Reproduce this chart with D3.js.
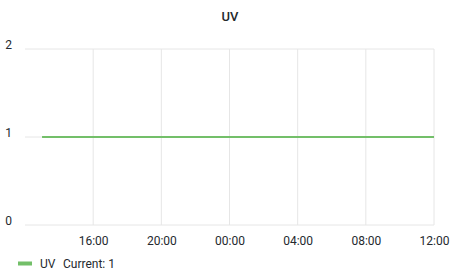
<!DOCTYPE html>
<html>
<head>
<meta charset="utf-8">
<script src="https://cdn.jsdelivr.net/npm/d3@7"></script>
<style>
  body { margin: 0; background: #fff; font-family: Roboto, "Noto Sans", sans-serif; }
</style>
</head>
<body>
<div id="chart"></div>
<script>
// UV panel, one series that stays flat at 1
const times = ['2024-01-01T13:00', '2024-01-01T16:00', '2024-01-01T20:00', '2024-01-02T00:00',
  '2024-01-02T04:00', '2024-01-02T08:00', '2024-01-02T12:00']
const uvValues = [1, 1, 1, 1, 1, 1, 1]
const domainTimes = ['2024-01-01T12:00', '2024-01-02T12:00']
const yTicks = [0, 1, 2]
const seriesName = 'UV'
const currentValue = 1

let fullWidth = 460
let fullHeight = 280
let margin = { top: 49, right: 26, bottom: 55, left: 25 }
let width = fullWidth - margin.left - margin.right
let height = fullHeight - margin.top - margin.bottom

const parse = d3.timeParse('%Y-%m-%dT%H:%M')
const data = times.map((t, i) => ({ date: parse(t), value: uvValues[i] }))

const svg = d3.select('#chart').append('svg')
  .attr('width', fullWidth).attr('height', fullHeight)

svg.append('text')
  .attr('x', fullWidth / 2).attr('y', 21)
  .attr('text-anchor', 'middle')
  .attr('font-size', 13).attr('font-weight', 500)
  .attr('fill', '#24292e')
  .text(seriesName)

const g = svg.append('g').attr('transform', 'translate(' + margin.left + ',' + margin.top + ')')

const x = d3.scaleTime().domain(domainTimes.map(parse)).range([0, width])
const y = d3.scaleLinear().domain([0, 2]).range([height, 0])

// grid
g.append('g').selectAll('line').data(yTicks).enter().append('line')
  .attr('x1', 0).attr('x2', width)
  .attr('y1', d => y(d)).attr('y2', d => y(d))
  .attr('stroke', '#e6e6e6')

const xTicks = x.ticks(d3.timeHour.every(4)).filter(d => +d > +x.domain()[0])
g.append('g').selectAll('line').data(xTicks).enter().append('line')
  .attr('x1', d => x(d)).attr('x2', d => x(d))
  .attr('y1', 0).attr('y2', height)
  .attr('stroke', '#e6e6e6')

// axes labels
const xAxis = d3.axisBottom(x).tickValues(xTicks).tickFormat(d3.timeFormat('%H:%M')).tickSize(0).tickPadding(11)
g.append('g').attr('transform', 'translate(0,' + height + ')').call(xAxis)
  .call(a => a.select('.domain').remove())
  .selectAll('text').attr('font-size', 12).attr('font-family', 'Roboto').attr('fill', '#24292e')

const yAxis = d3.axisLeft(y).tickValues(yTicks).tickFormat(d3.format('d')).tickSize(0).tickPadding(13)
g.append('g').call(yAxis)
  .call(a => a.select('.domain').remove())
  .selectAll('text').attr('font-size', 12).attr('font-family', 'Roboto').attr('fill', '#24292e')
  .attr('dy', '-0.05em')

// series
const line = d3.line().x(d => x(d.date)).y(d => y(d.value))
g.append('path').datum(data)
  .attr('fill', 'none')
  .attr('stroke', '#73bf69')
  .attr('stroke-width', 2)
  .attr('d', line)

// legend
const legend = svg.append('g').attr('transform', 'translate(18,263)')
legend.append('rect').attr('x', 0).attr('y', -1.5).attr('width', 14).attr('height', 4).attr('fill', '#73bf69')
legend.append('text').attr('x', 22).attr('y', 5)
  .attr('font-size', 12).attr('fill', '#24292e')
  .text(seriesName)
legend.append('text').attr('x', 45).attr('y', 5)
  .attr('font-size', 12).attr('fill', '#24292e')
  .text('Current: ' + currentValue)
</script>
</body>
</html>
